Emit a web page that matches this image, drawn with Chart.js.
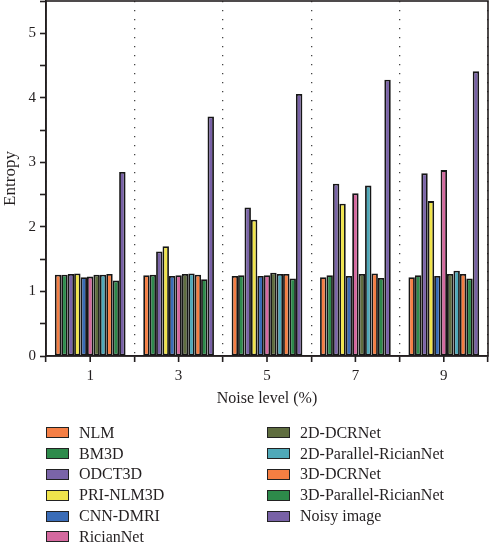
<!DOCTYPE html>
<html><head><meta charset="utf-8">
<script src="https://cdn.jsdelivr.net/npm/chart.js@4"></script>
<style>
html,body{margin:0;padding:0;background:#fff;}
#wrap{position:relative;width:489px;height:543px;overflow:hidden;}
#c{position:absolute;left:0;top:0;}
#legend{position:absolute;left:0;top:0;width:489px;height:543px;font-family:"Liberation Serif","DejaVu Serif",serif;font-size:16px;color:#231f20;}
.item{position:absolute;display:flex;align-items:center;height:20px;white-space:nowrap;}
.box{box-sizing:border-box;width:23px;height:11px;border:1.6px solid #222;margin-right:10px;}
</style></head>
<body>
<div id="wrap">
<canvas id="c" width="489" height="410"></canvas>
<div id="legend"></div>
</div>
<script>
const categories = ['1', '3', '5', '7', '9'];
const seriesNames = ['NLM', 'BM3D', 'ODCT3D', 'PRI-NLM3D', 'CNN-DMRI', 'RicianNet', '2D-DCRNet', '2D-Parallel-RicianNet', '3D-DCRNet', '3D-Parallel-RicianNet', 'Noisy image'];
const nlm      = [1.26, 1.25, 1.24, 1.22, 1.22];
const bm3d     = [1.26, 1.26, 1.25, 1.25, 1.25];
const odct3d   = [1.27, 1.62, 2.30, 2.67, 2.83];
const prinlm3d = [1.28, 1.70, 2.11, 2.36, 2.40];
const cnndmri  = [1.22, 1.24, 1.24, 1.24, 1.24];
const riciannet= [1.23, 1.25, 1.25, 2.52, 2.88];
const dcrnet2d = [1.26, 1.27, 1.29, 1.27, 1.27];
const prnet2d  = [1.26, 1.28, 1.27, 2.64, 1.32];
const dcrnet3d = [1.27, 1.26, 1.27, 1.28, 1.27];
const prnet3d  = [1.17, 1.19, 1.20, 1.21, 1.20];
const noisy    = [2.85, 3.71, 4.06, 4.28, 4.41];
const yTickStep = 0.5;
const yMax = 5.5;

const seriesValues = [nlm, bm3d, odct3d, prinlm3d, cnndmri, riciannet, dcrnet2d, prnet2d, dcrnet3d, prnet3d, noisy];
const seriesColors = ['#F57F45', '#2E8B4C', '#7A64A8', '#F0E44C', '#3A6CB7', '#D5699F', '#5F6D3F', '#4FA9B9', '#F57E42', '#2D8A4A', '#7861A6'];

const serif = '"Liberation Serif","DejaVu Serif",serif';
const ink = '#231f20';

const framePlugin = {
  id: 'frame',
  afterDraw(chart) {
    const {ctx, chartArea: a, scales: {x}} = chart;
    ctx.save();
    ctx.strokeStyle = ink;
    ctx.lineWidth = 1.6;
    for (let i = 0; i < categories.length; i++) {
      const px = x.getPixelForValue(i);
      ctx.beginPath();
      ctx.moveTo(px, a.bottom);
      ctx.lineTo(px, a.bottom + 6);
      ctx.stroke();
    }
    ctx.strokeRect(a.left, a.top, a.right - a.left, a.bottom - a.top);
    ctx.restore();
  }
};

const chart = new Chart(document.getElementById('c'), {
  type: 'bar',
  data: {
    labels: categories,
    datasets: seriesNames.map((n, i) => ({
      label: n,
      data: seriesValues[i],
      backgroundColor: seriesColors[i],
      borderColor: '#161616',
      borderWidth: 1.8,
      borderSkipped: false,
      categoryPercentage: 0.8,
      barPercentage: 1
    }))
  },
  options: {
    responsive: false,
    animation: false,
    layout: {padding: {top: 1, right: 1, left: 0, bottom: 0}},
    plugins: {legend: {display: false}, tooltip: {enabled: false}},
    scales: {
      x: {
        grid: {offset: true, drawOnChartArea: true, color: '#444', lineWidth: 1.3, drawTicks: true, tickLength: 6, tickColor: ink, tickWidth: 1.6, tickBorderDash: []},
        border: {display: true, color: ink, width: 1.6, dash: [1.3, 7.7]},
        ticks: {color: ink, font: {family: serif, size: 15}, padding: 5},
        title: {display: true, text: 'Noise level (%)', color: ink, font: {family: serif, size: 16}, padding: {top: 0, bottom: 2}},
        afterFit(s) { s.height = 54; s.paddingLeft = 0; s.paddingRight = 0; }
      },
      y: {
        min: 0, max: yMax,
        grid: {drawOnChartArea: false, drawTicks: true, tickLength: 6, tickColor: ink, tickWidth: 1.6},
        border: {display: true, color: ink, width: 1.6},
        ticks: {stepSize: yTickStep, color: ink, font: {family: serif, size: 15}, padding: 4,
          callback: v => Number.isInteger(v) && v <= 5 ? String(v) : ''},
        title: {display: true, text: 'Entropy', color: ink, font: {family: serif, size: 17}, padding: {top: 0, bottom: 0}},
        afterFit(s) { s.width = 46; s.paddingTop = 0; s.paddingBottom = 0; }
      }
    }
  },
  plugins: [framePlugin]
});

const legend = document.getElementById('legend');
chart.data.datasets.forEach((ds, i) => {
  const col = i < 6 ? 0 : 1;
  const row = i < 6 ? i : i - 6;
  const div = document.createElement('div');
  div.className = 'item';
  div.style.left = (col === 0 ? 46 : 267) + 'px';
  div.style.top = (432.8 + row * 20.8 - 10) + 'px';
  const b = document.createElement('span');
  b.className = 'box';
  b.style.background = ds.backgroundColor;
  const t = document.createElement('span');
  t.textContent = ds.label;
  div.appendChild(b); div.appendChild(t);
  legend.appendChild(div);
});
</script>
</body></html>
